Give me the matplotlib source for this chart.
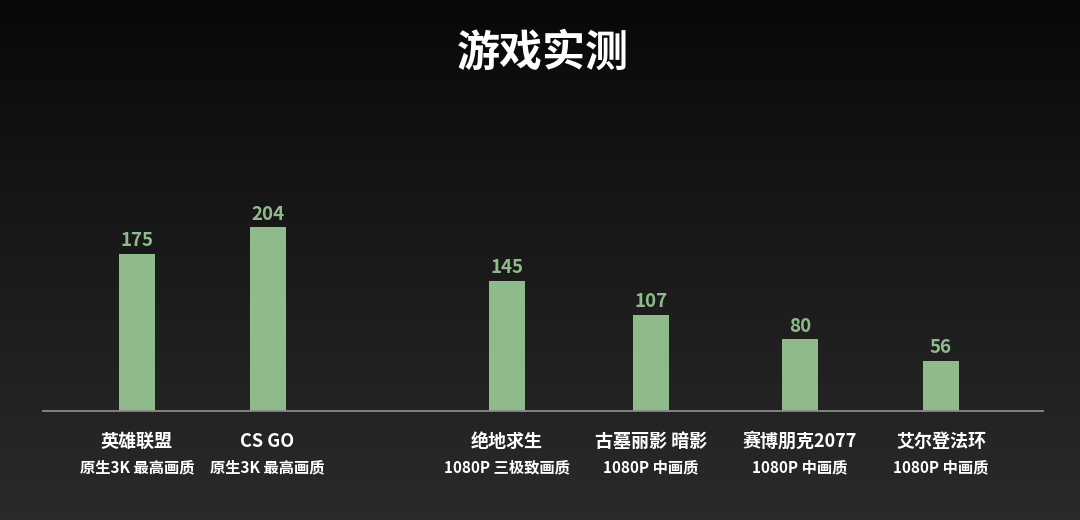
import numpy as np
import matplotlib
matplotlib.use("Agg")
import matplotlib.pyplot as plt

plt.rcParams['font.family'] = ['Noto Sans CJK SC', 'DejaVu Sans']

# ---- data ----
title = "游戏实测"
games = ["英雄联盟", "CS GO", "绝地求生", "古墓丽影 暗影", "赛博朋克2077", "艾尔登法环"]
settings = ["原生3K 最高画质", "原生3K 最高画质", "1080P 三极致画质",
            "1080P 中画质", "1080P 中画质", "1080P 中画质"]
fps = [175, 204, 145, 107, 80, 56]

# ---- layout (pixel-based positions along the axis) ----
x_pos = [94, 224.5, 464, 608, 757, 898]

W, H = 1080, 520
fig = plt.figure(figsize=(W / 100, H / 100), dpi=100)

# background gradient
bg = fig.add_axes([0, 0, 1, 1])
grad = np.linspace(0, 1, 256).reshape(-1, 1)
top = np.array([0.03, 0.03, 0.03])
bot = np.array([0.165, 0.165, 0.165])
img = top + (bot - top) * grad[..., None] ** 0.9
bg.imshow(img, aspect='auto', extent=[0, 1, 0, 1], origin='upper')
bg.set_axis_off()

# main axes: x from 43 to 1043 px, baseline at y=411 px
ax_left, ax_right = 43, 1043
base_y = 411
ymax = 250
px_per_unit = 0.9
ax_h = ymax * px_per_unit
ax = fig.add_axes([ax_left / W, (H - base_y) / H, (ax_right - ax_left) / W, ax_h / H])
ax.set_xlim(0, ax_right - ax_left)
ax.set_ylim(0, ymax)
ax.patch.set_alpha(0)

bar_color = "#8fbb8c"
ax.bar(x_pos, fps, width=36, color=bar_color, zorder=2)
for x, v in zip(x_pos, fps):
    ax.annotate(str(v), (x, v), xytext=(0, 2.5), textcoords='offset points',
                ha='center', va='bottom', color=bar_color, fontsize=13.5,
                fontweight='bold')

for s in ['top', 'right', 'left']:
    ax.spines[s].set_visible(False)
ax.spines['bottom'].set_color('#8a8a8a')
ax.spines['bottom'].set_linewidth(1.3)
ax.set_yticks([])
ax.set_xticks([])

for x, g, s in zip(x_pos, games, settings):
    ax.annotate(g, (x, 0), xytext=(0, -22), textcoords='offset points',
                ha='center', va='center', color='white', fontsize=13,
                fontweight='bold')
    ax.annotate(s, (x, 0), xytext=(0, -40.5), textcoords='offset points',
                ha='center', va='center', color='white', fontsize=11,
                fontweight='bold')

fig.text(543 / W, 1 - 53 / H, title, ha='center', va='center', color='white',
         fontsize=31, fontweight='heavy')

fig.savefig("out.png", dpi=100)
